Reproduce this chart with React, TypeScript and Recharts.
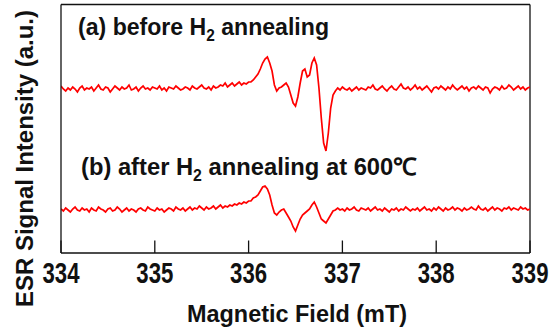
import { LineChart, Line, XAxis, YAxis, ReferenceLine } from 'recharts';

// magnetic field grid (mT)
const fieldStart = 334;
const fieldStep = 0.025;
const fieldTicks = [334, 335, 336, 337, 338, 339];

// (a) before H2 annealing (a.u.)
const beforeAnneal = [
  167, 164, 162, 165, 163, 166, 164, 161, 165, 167,
  163, 165, 164, 166, 162, 165, 168, 164, 163, 166,
  165, 161, 164, 167, 165, 163, 166, 164, 165, 168,
  163, 164, 166, 162, 165, 167, 164, 165, 163, 166,
  165, 164, 167, 163, 165, 162, 166, 165, 164, 167,
  165, 163, 164, 166, 165, 163, 167, 165, 164, 166,
  168, 165, 164, 166, 163, 167, 165, 166, 168, 167,
  170, 166, 168, 170, 167, 169, 171, 168, 170, 169,
  171, 171, 173, 176, 179, 184, 190, 194, 196, 190,
  182, 168, 162, 165, 166, 168, 170, 166, 158, 150,
  147, 156, 170, 182, 184, 176, 178, 190, 195, 188,
  165, 135, 110, 102, 120, 145, 158, 162, 165, 163,
  166, 164, 163, 165, 162, 164, 166, 163, 165, 164,
  163, 166, 165, 168, 164, 163, 165, 167, 164, 162,
  165, 167, 164, 163, 166, 169, 165, 164, 166, 163,
  165, 168, 164, 166, 163, 165, 167, 164, 161, 165,
  166, 164, 167, 165, 163, 166, 164, 168, 165, 163,
  165, 167, 164, 166, 162, 165, 166, 164, 167, 165,
  163, 166, 165, 160, 164, 166, 165, 163, 167, 164,
  165, 168, 166, 163, 165, 167, 164, 166, 163, 165,
  166,
];

// (b) after H2 annealing at 600℃
const afterAnneal = [
  44, 42, 45, 43, 41, 44, 46, 43, 42, 45,
  43, 44, 41, 45, 43, 42, 46, 44, 43, 41,
  44, 45, 42, 43, 46, 44, 41, 43, 45, 42,
  44, 43, 41, 44, 45, 43, 42, 46, 44, 43,
  42, 45, 43, 44, 41, 43, 45, 44, 42, 46,
  44, 43, 45, 42, 44, 46, 43, 45, 44, 47,
  45, 43, 46, 44, 45, 47, 44, 46, 48, 45,
  47, 46, 48, 47, 49, 48, 50, 49, 51, 50,
  52, 52, 55, 56, 58, 62, 66, 67, 64, 58,
  48, 40, 38, 41, 43, 44, 40, 36, 32, 26,
  22, 28, 34, 38, 40, 42, 44, 48, 51, 46,
  40, 34, 32, 30, 34, 38, 42, 43, 45, 43,
  44, 42, 45, 43, 44, 46, 43, 42, 45, 44,
  43, 45, 42, 44, 46, 43, 44, 42, 45, 43,
  41, 44, 43, 45, 42, 44, 43, 46, 44, 42,
  44, 43, 45, 42, 44, 46, 43, 44, 42, 45,
  43, 46, 44, 42, 45, 43, 44, 46, 43, 45,
  44, 42, 45, 43, 44, 46, 44, 43, 47, 44,
  43, 45, 42, 44, 46, 43, 45, 44, 42, 45,
  44, 46, 43, 45, 44, 43, 46, 44, 45, 43,
  44,
];

const data = beforeAnneal.map((v, i) => ({
  field: +(fieldStart + i * fieldStep).toFixed(3),
  before: v,
  after: afterAnneal[i],
}));

const W = 553;
const H = 329;
const PLOT_BOTTOM = 253;
const FONT = "'Liberation Sans', Arial, sans-serif";
const INK = '#111';

function FieldTick(props: any) {
  const { x, payload } = props;
  return (
    <g>
      <line x1={x} x2={x} y1={PLOT_BOTTOM} y2={PLOT_BOTTOM - 12.5} stroke={INK} strokeWidth={1.3} />
      <text
        x={x}
        y={283}
        textAnchor='middle'
        fontFamily={FONT}
        fontWeight={700}
        fontSize={29}
        fill={INK}
        textLength={37}
        lengthAdjust='spacingAndGlyphs'
      >
        {payload.value}
      </text>
    </g>
  );
}

export default function App() {
  return (
    <div style={{ position: 'absolute', left: 0, top: 0, width: W, height: H, background: '#fff' }}>
      <LineChart
        width={W}
        height={H}
        data={data}
        margin={{ top: 4.5, right: 23, bottom: 0, left: 0 }}
      >
        <XAxis
          dataKey='field'
          type='number'
          domain={[334, 339]}
          ticks={fieldTicks}
          height={76}
          tickSize={0}
          tickMargin={0}
          tickLine={false}
          tick={<FieldTick />}
          axisLine={{ stroke: INK, strokeWidth: 1.3 }}
          allowDataOverflow
        />
        <YAxis
          type='number'
          domain={[0, 248.5]}
          width={61}
          tick={false}
          tickLine={false}
          axisLine={{ stroke: INK, strokeWidth: 1.3 }}
          allowDataOverflow
        />
        <ReferenceLine y={248.5} stroke={INK} strokeWidth={1.3} />
        <ReferenceLine x={339} stroke={INK} strokeWidth={1.3} />
        <Line
          type='linear'
          dataKey='before'
          stroke='#ff0000'
          strokeWidth={1.7}
          dot={false}
          isAnimationActive={false}
        />
        <Line
          type='linear'
          dataKey='after'
          stroke='#ff0000'
          strokeWidth={1.7}
          dot={false}
          isAnimationActive={false}
        />
      </LineChart>
      <svg
        width={W}
        height={H}
        style={{ position: 'absolute', left: 0, top: 0, pointerEvents: 'none' }}
        fontFamily={FONT}
        fontWeight={700}
        fill={INK}
      >
        <text x={78} y={35} fontSize={24} textLength={251} lengthAdjust='spacingAndGlyphs'>
          (a) before H<tspan fontSize={16} dy={6}>2</tspan>
          <tspan dy={-6}> annealing</tspan>
        </text>
        <text x={81} y={175} fontSize={24} textLength={336} lengthAdjust='spacingAndGlyphs'>
          (b) after H<tspan fontSize={16} dy={6}>2</tspan>
          <tspan dy={-6}> annealing at 600℃</tspan>
        </text>
        <text
          x={297}
          y={321.5}
          fontSize={24}
          textAnchor='middle'
          textLength={220}
          lengthAdjust='spacingAndGlyphs'
        >
          Magnetic Field (mT)
        </text>
        <text
          x={33}
          y={307}
          fontSize={24}
          transform='rotate(-90, 33, 307)'
          textLength={297}
          lengthAdjust='spacingAndGlyphs'
        >
          ESR Signal Intensity (a.u.)
        </text>
      </svg>
    </div>
  );
}
